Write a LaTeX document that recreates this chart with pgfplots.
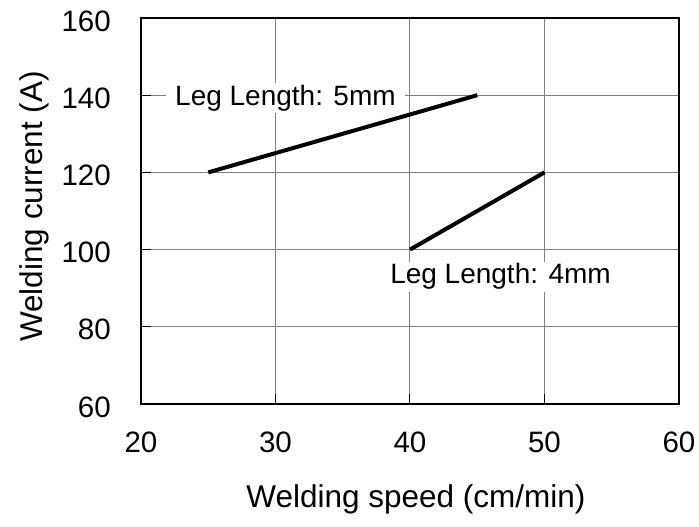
\documentclass[border=0pt]{standalone}
\usepackage{pgfplots}
\pgfplotsset{compat=1.18}
\usepackage{fontspec}
\setmainfont{Liberation Sans}
\begin{document}
\begin{tikzpicture}
\useasboundingbox (-141pt,-123pt) rectangle (558pt,404pt);
\begin{axis}[
  at={(0,0)}, anchor=south west,
  scale only axis,
  width=538pt, height=386pt,
  xmin=20, xmax=60, ymin=60, ymax=160,
  xtick={20,30,40,50,60}, ytick={60,80,100,120,140,160},
  grid=major,
  major grid style={gray, line width=1pt},
  axis line style={line width=2.8pt, black},
  tick align=inside,
  xtick pos=bottom, ytick pos=left,
  major tick length=10pt,
  tick style={black, line width=1pt},
  /pgf/number format/assume math mode=true,
  ticklabel style={font=\fontsize{29.5}{36}\selectfont, inner sep=0pt},
  xticklabel style={anchor=north, yshift=-28pt},
  yticklabel style={anchor=east, xshift=-30pt, yshift=-3pt},
  every axis x label/.style={at={(axis description cs:0.511,-0.269)}, anchor=base, font=\fontsize{31.5}{38}\selectfont, inner sep=0pt},
  every axis y label/.style={at={(axis description cs:-0.184,0.512)}, rotate=90, anchor=base, font=\fontsize{31.5}{38}\selectfont, inner sep=0pt},
  xlabel={Welding speed (cm/min)},
  ylabel={Welding current (A)},
  clip=false,
]
\node[fill=white, inner xsep=9pt, inner ysep=2pt, anchor=base, font=\fontsize{28}{34}\selectfont] at (axis cs:30.74,137.46) {Leg Length: 5mm};
\node[fill=white, inner xsep=9pt, inner ysep=2pt, anchor=base, font=\fontsize{28}{34}\selectfont] at (axis cs:46.73,91.09) {Leg Length: 4mm};
\addplot[black, line width=4pt] coordinates {(25,120) (45,140)};
\addplot[black, line width=4pt] coordinates {(40,100) (50,120)};
\end{axis}
\end{tikzpicture}
\end{document}
